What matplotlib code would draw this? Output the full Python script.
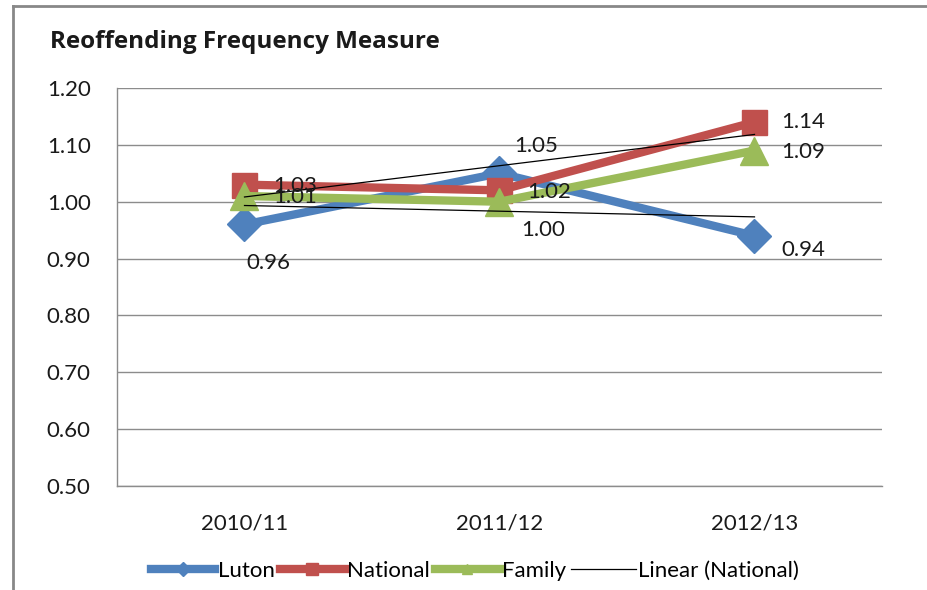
import numpy as np
import matplotlib
matplotlib.use("Agg")
from matplotlib import pyplot as plt
from matplotlib.lines import Line2D

plt.rcParams['font.family'] = ['Lato', 'DejaVu Sans']

years = ['2010/11', '2011/12', '2012/13']
luton = [0.96, 1.05, 0.94]
national = [1.03, 1.02, 1.14]
family = [1.01, 1.00, 1.09]

## label offsets in pixels (dx, dy) and alignment, per point
luton_lbl = [(2, -39, 'left'), (37, 27, 'center'), (27, -14, 'left')]
national_lbl = [(29, -1, 'left'), (28, -2, 'left'), (27, 0, 'left')]
family_lbl = [(29, -1, 'left'), (22, -28, 'left'), (27, -1, 'left')]

c_blue, c_red, c_green = '#4F81BD', '#C0504D', '#9BBB59'
fs = 16

fig = plt.figure(figsize=(9.28, 5.9), dpi=100)
W, H = 928, 590
ax = fig.add_axes([117/W, 1-486/H, (882-117)/W, (486-88)/H])

x = np.arange(len(years))
ax.plot(x, luton, color=c_blue, lw=6, marker='D', ms=17, zorder=3, label='Luton')
ax.plot(x, national, color=c_red, lw=6, marker='s', ms=18, zorder=3, label='National')
ax.plot(x, family, color=c_green, lw=6, marker='^', ms=20, zorder=3, label='Family')

## linear trend lines (Excel style)
p_nat = np.polyfit(x, national, 1)
p_lut = np.polyfit(x, luton, 1)
ax.plot(x[[0, -1]], np.polyval(p_nat, x[[0, -1]]), color='black', lw=0.9, zorder=4)
ax.plot(x[[0, -1]], np.polyval(p_lut, x[[0, -1]]), color='black', lw=0.9, zorder=4)

for vals, offs in [(luton, luton_lbl), (national, national_lbl), (family, family_lbl)]:
    for i, v in enumerate(vals):
        dx, dy, ha = offs[i]
        ax.annotate(f'{v:.2f}', (i, v), xytext=(dx, dy), textcoords='offset pixels',
                    ha=ha, va='center', fontsize=fs, color='#1a1a1a', zorder=5)

ax.set_xlim(-0.5, 2.5)
ax.set_ylim(0.5, 1.2)
ax.set_yticks(np.arange(0.5, 1.21, 0.1))
ax.set_yticklabels([f'{t:.2f}' for t in np.arange(0.5, 1.21, 0.1)])
ax.set_xticks(x)
ax.set_xticklabels(years)
ax.tick_params(axis='both', length=0, labelsize=fs, colors='#1a1a1a')
ax.tick_params(axis='y', pad=19)
ax.tick_params(axis='x', pad=20)
ax.grid(axis='y', color='#8c8c8c', lw=1)
ax.set_axisbelow(True)
for s in ['top', 'right']:
    ax.spines[s].set_visible(False)
for s in ['left', 'bottom']:
    ax.spines[s].set_color('#8c8c8c')
    ax.spines[s].set_linewidth(1)

fig.text(50/W, 1-42/H, 'Reoffending Frequency Measure', fontsize=17.5, fontweight='bold',
         va='center', ha='left', color='#1a1a1a', family=['Open Sans', 'DejaVu Sans'])

handles = [
    Line2D([], [], color=c_blue, lw=6, marker='D', ms=7),
    Line2D([], [], color=c_red, lw=6, marker='s', ms=9),
    Line2D([], [], color=c_green, lw=6, marker='^', ms=7),
    Line2D([], [], color='black', lw=0.9),
]
fig.legend(handles, ['Luton', 'National', 'Family', 'Linear (National)'], loc='center',
           bbox_to_anchor=(475/W, 1-571/H), ncol=4, frameon=False, fontsize=fs,
           handlelength=2.9, handletextpad=0.1, columnspacing=0.25)

## chart border (partially cut off in original)
fig.add_artist(Line2D([13.5/W, 13.5/W], [0, 1-6/H], color='#888888', lw=2))
fig.add_artist(Line2D([13.5/W, 1], [1-6/H, 1-6/H], color='#888888', lw=2))

fig.savefig('out.png', dpi=100)
